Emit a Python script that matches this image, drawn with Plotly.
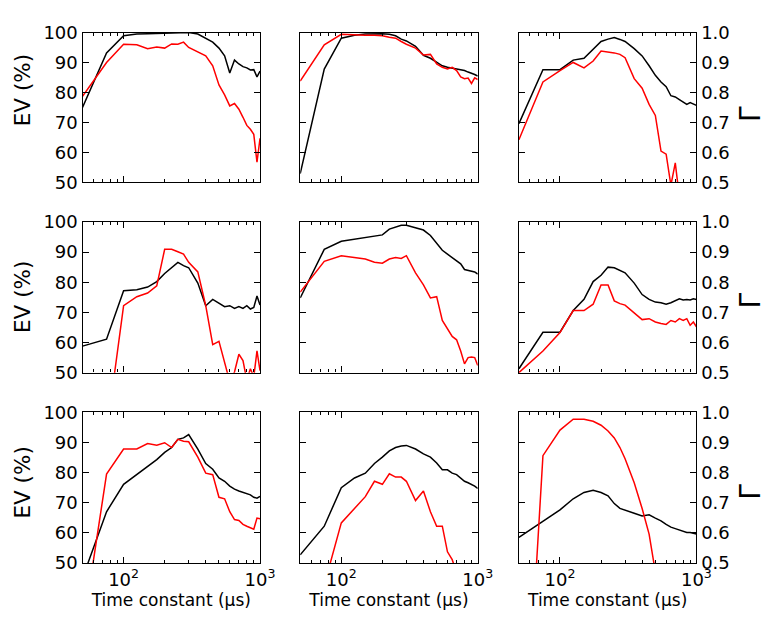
import math
import plotly.graph_objects as go

# Time constant grid (µs)
tau_us = [50, 75, 100, 125, 150, 175, 200, 225, 250, 275, 300, 350, 400, 450,
          500, 550, 600, 650, 700, 750, 800, 850, 900, 950, 1000]

# Row 1
ev_black_r1c1 = [75, 93.2, 98.9, 99.5, 99.6, 99.7, 99.9, 100, 100, 100, 100, 99.5, 98, 96.8,
                 94.8, 92.2, 86.5, 90.8, 89.5, 88.6, 88.2, 87.5, 87.6, 85.2, 87.1]
ev_red_r1c1 = [78.7, 90, 96.1, 95.9, 94.6, 95.2, 94.8, 96.2, 96.1, 96.8, 95, 93.4, 92.2, 88.9,
               82.5, 79.2, 75.5, 76.3, 74.4, 71.7, 69, 67.7, 66, 56.7, 64.7]
ev_black_r1c2 = [52.9, 87.8, 98.1, 99.1, 99.5, 99.6, 99.6, 99.4, 98.9, 97.8, 97.2, 95.4, 92.4, 91.4,
                 90, 88.9, 88.4, 88.1, 87.8, 87.6, 87.3, 86.8, 86.5, 86, 85.5]
ev_red_r1c2 = [83.8, 95.9, 99.4, 99.1, 99.1, 99.1, 98.9, 98.4, 98.1, 97, 96.1, 94.8, 92.5, 92.7,
               89.5, 88.4, 87.8, 88.4, 87.3, 85.2, 84.6, 84.8, 83, 84.9, 84.3]
g_black_r1c3 = [0.696, 0.876, 0.876, 0.908, 0.914, 0.943, 0.970, 0.978, 0.983, 0.977, 0.970, 0.946,
                0.922, 0.889, 0.857, 0.835, 0.819, 0.789, 0.785, 0.776, 0.768, 0.760, 0.766, 0.762, 0.757]
g_red_r1c3 = [0.642, 0.835, 0.873, 0.900, 0.882, 0.905, 0.938, 0.935, 0.932, 0.927, 0.916, 0.846,
              0.814, 0.760, 0.723, 0.604, 0.594, 0.49, 0.565, 0.45, 0.42, 0.40, 0.38, 0.36, 0.35]

# Row 2
ev_black_r2c1 = [58.8, 61.1, 77.2, 77.5, 78.4, 80.2, 82.9, 85, 86.6, 85.5, 84.8, 79.7, 72.2, 74.3,
                 73, 71.9, 72.2, 71.3, 71.9, 71.3, 72.2, 71.1, 71.6, 75.4, 72.4]
ev_red_r2c1 = [20, 30, 72.2, 75.2, 76.4, 78.8, 90.9, 90.9, 90.1, 89.3, 86.6, 83.4, 72.2, 59.3,
               60.4, 53.4, 47, 50.2, 56.1, 54, 47.5, 51.3, 48.6, 57.2, 50.7]
ev_black_r2c2 = [74.8, 90.9, 93.6, 94.3, 94.9, 95.4, 95.7, 97.6, 98.4, 98.9, 98.9, 98.1, 97.3, 95.5,
                 93, 90.6, 89.3, 88.2, 87.2, 86.1, 84.2, 83.9, 83.6, 83.4, 82.7]
ev_red_r2c2 = [76.7, 86.9, 88.8, 88.2, 87.7, 86.6, 86.3, 87.7, 88.2, 87.9, 88.8, 83.1, 79.1, 74.8,
               75.2, 67.3, 64.7, 62, 60.9, 57.2, 52.9, 55, 55.2, 55, 52.4]
g_black_r2c3 = [0.513, 0.634, 0.634, 0.706, 0.743, 0.802, 0.823, 0.850, 0.848, 0.839, 0.831, 0.797,
                0.759, 0.743, 0.734, 0.732, 0.727, 0.732, 0.738, 0.745, 0.741, 0.743, 0.741, 0.745, 0.743]
g_red_r2c3 = [0.500, 0.572, 0.633, 0.706, 0.706, 0.727, 0.791, 0.791, 0.738, 0.729, 0.724, 0.697,
              0.676, 0.679, 0.668, 0.663, 0.660, 0.673, 0.668, 0.679, 0.673, 0.679, 0.657, 0.668, 0.652]

# Row 3
ev_black_r3c1 = [45, 67, 76.1, 79.3, 81.9, 84.3, 86.7, 88.3, 91, 91.5, 92.6, 87.8, 83, 81.1,
                 78.2, 77.1, 75.5, 74.5, 73.9, 73.4, 72.9, 72.6, 71.8, 71.5, 72.1]
ev_red_r3c1 = [27, 79.5, 87.8, 87.8, 89.6, 89.1, 89.9, 88.3, 91, 90.4, 90.2, 85.1, 79.8, 79.3,
               71.8, 71.3, 67, 64.4, 64.1, 62.8, 62.2, 61.7, 61.2, 64.9, 64.7]
ev_black_r3c2 = [52.7, 62.2, 75, 78.2, 79.8, 83, 85.1, 87.2, 88.3, 88.8, 89, 87.8, 86.2, 85.1,
                 83.2, 80.9, 80.9, 79.8, 79.3, 78.2, 77.1, 76.6, 76.1, 75.5, 74.7]
ev_red_r3c2 = [30, 42.7, 63.3, 68.1, 72, 77.1, 76.1, 79.6, 78.5, 78.5, 77.1, 70.7, 73.9, 67,
               62.2, 62.2, 53.7, 51.1, 46.8, 45, 44, 43, 42, 41, 40]
g_black_r3c3 = [0.585, 0.638, 0.676, 0.713, 0.734, 0.741, 0.734, 0.723, 0.697, 0.681, 0.676, 0.665,
                0.656, 0.660, 0.649, 0.640, 0.628, 0.619, 0.614, 0.609, 0.606, 0.601, 0.601, 0.598, 0.596]
g_red_r3c3 = [-0.49, 0.856, 0.941, 0.977, 0.977, 0.970, 0.957, 0.938, 0.915, 0.883, 0.846, 0.766,
              0.681, 0.596, 0.47, 0.42, 0.40, 0.38, 0.36, 0.35, 0.34, 0.33, 0.32, 0.31, 0.30]

panels = [
    (ev_black_r1c1, ev_red_r1c1), (ev_black_r1c2, ev_red_r1c2), (g_black_r1c3, g_red_r1c3),
    (ev_black_r2c1, ev_red_r2c1), (ev_black_r2c2, ev_red_r2c2), (g_black_r2c3, g_red_r2c3),
    (ev_black_r3c1, ev_red_r3c1), (ev_black_r3c2, ev_red_r3c2), (g_black_r3c3, g_red_r3c3),
]

ev_ticks = [50, 60, 70, 80, 90, 100]
g_ticks = [0.5, 0.6, 0.7, 0.8, 0.9, 1.0]
x_major = [100, 1000]
x_major_text = ["10<sup>2</sup>", "10<sup>3</sup>"]
x_minor = [60, 70, 80, 90, 200, 300, 400, 500, 600, 700, 800, 900]

W, H = 775, 622
xdom = [[76 / W, 257 / W], [298 / W, 479 / W], [521 / W, 702 / W]]
ydom = [[1 - 169 / H, 1 - 14 / H], [1 - 366 / H, 1 - 210 / H], [1 - 563 / H, 1 - 407 / H]]
ev_label_y = [74, 288, 480]      # label centres (px from top)
gamma_label_y = [98, 291, 489]

FONT = "DejaVu Sans"
fig = go.Figure()
layout = {}
annotations = []
for k, (blk, red) in enumerate(panels):
    r, c = divmod(k, 3)
    idx = k + 1
    xa = "x" if idx == 1 else f"x{idx}"
    ya = "y" if idx == 1 else f"y{idx}"
    fig.add_trace(go.Scatter(x=tau_us, y=blk, mode="lines", xaxis=xa, yaxis=ya,
                             line=dict(color="black", width=1.5), showlegend=False))
    fig.add_trace(go.Scatter(x=tau_us, y=red, mode="lines", xaxis=xa, yaxis=ya,
                             line=dict(color="#ff0000", width=1.5), showlegend=False))
    xkey = "xaxis" if idx == 1 else f"xaxis{idx}"
    ykey = "yaxis" if idx == 1 else f"yaxis{idx}"
    xaxis = dict(
        domain=xdom[c], anchor=ya, type="log",
        range=[math.log10(50), 3],
        tickmode="array", tickvals=x_major, ticktext=x_major_text,
        showticklabels=(r == 2),
        ticks="inside", ticklen=6, tickwidth=1, tickcolor="black",
        minor=dict(tickmode="array", tickvals=x_minor, ticks="inside", ticklen=3,
                   tickwidth=1, tickcolor="black", showgrid=False),
        showline=True, linecolor="black", linewidth=1.3, mirror="ticks",
        showgrid=False, zeroline=False,
        tickfont=dict(family=FONT, size=18, color="black"),
    )
    if r == 2:
        xaxis["title"] = dict(text="Time constant (μs)",
                              font=dict(family=FONT, size=17, color="black"), standoff=5)
    if c < 2:
        yrange, yt, ytext = [50, 100], ev_ticks, [str(v) for v in ev_ticks]
    else:
        yrange, yt, ytext = [0.5, 1.0], g_ticks, [f"{v:.1f}" for v in g_ticks]
    yaxis = dict(
        domain=ydom[r], anchor=xa, range=yrange,
        tickmode="array", tickvals=yt, ticktext=ytext,
        showticklabels=(c != 1), side=("right" if c == 2 else "left"),
        ticks="inside", ticklen=6, tickwidth=1, tickcolor="black",
        showline=True, linecolor="black", linewidth=1.3, mirror="ticks",
        showgrid=False, zeroline=False,
        tickfont=dict(family=FONT, size=18, color="black"),
    )
    if c == 0:
        annotations.append(dict(text="EV (%)", xref="paper", yref="paper",
                                x=15 / W, y=1 - ev_label_y[r] / H,
                                xanchor="center", yanchor="middle", textangle=-90,
                                showarrow=False,
                                font=dict(family=FONT, size=21.5, color="black")))
    elif c == 2:
        annotations.append(dict(text="Γ", xref="paper", yref="paper",
                                x=757 / W, y=1 - gamma_label_y[r] / H,
                                xanchor="center", yanchor="middle", textangle=-90,
                                showarrow=False,
                                font=dict(family=FONT, size=28, color="black")))
    layout[xkey] = xaxis
    layout[ykey] = yaxis

fig.update_layout(
    width=W, height=H,
    margin=dict(l=0, r=0, t=0, b=0),
    paper_bgcolor="white", plot_bgcolor="white",
    showlegend=False,
    font=dict(family=FONT, color="black"),
    annotations=annotations,
    **layout,
)
fig.write_html("out.html")
